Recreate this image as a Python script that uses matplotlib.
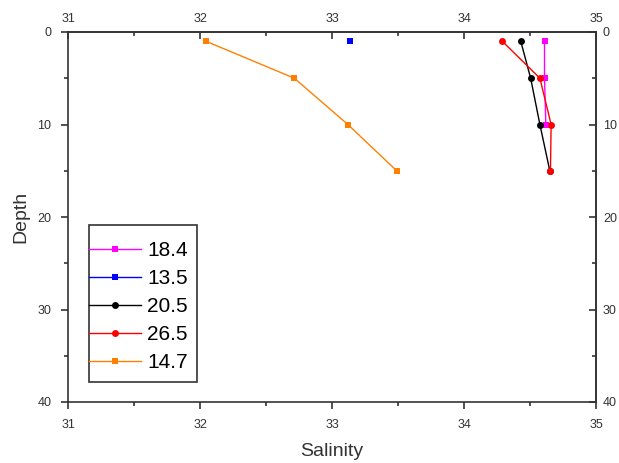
import matplotlib
matplotlib.use("Agg")
import matplotlib.pyplot as plt
from matplotlib.patches import Rectangle
from matplotlib.ticker import MultipleLocator

plt.rcParams['font.family'] = ['Liberation Sans', 'DejaVu Sans']

# salinity profiles, one per station temperature label
labels = ['18.4', '13.5', '20.5', '26.5', '14.7']
colors = ['#ff00ff', '#0000ff', '#000000', '#ff0000', '#ff8000']
markers = ['s', 's', 'o', 'o', 's']

depth_184 = [1, 5, 10]
sal_184 = [34.61, 34.61, 34.62]
depth_135 = [1]
sal_135 = [33.14]
depth_205 = [1, 5, 10, 15]
sal_205 = [34.43, 34.505, 34.575, 34.65]
depth_265 = [1, 5, 10, 15]
sal_265 = [34.29, 34.575, 34.66, 34.655]
depth_147 = [1, 5, 10, 15]
sal_147 = [32.045, 32.715, 33.12, 33.49]

depths = [depth_184, depth_135, depth_205, depth_265, depth_147]
salts = [sal_184, sal_135, sal_205, sal_265, sal_147]

W, H = 619, 463
fig = plt.figure(figsize=(W / 100, H / 100), dpi=100)
ax = fig.add_axes([68 / W, 1 - 402 / H, 528 / W, 370 / H])

for s, d, c, m, lab in zip(salts, depths, colors, markers, labels):
    ax.plot(s, d, color=c, marker=m, markersize=5, linewidth=1, label=lab,
            markeredgewidth=0)

ax.set_xlim(31, 35)
ax.set_ylim(40, 0)

grey = '#333333'
for sp in ax.spines.values():
    sp.set_color(grey)
    sp.set_linewidth(1.2)


def set_locators(axis_obj, major, minor):
    axis_obj.set_major_locator(MultipleLocator(major))
    axis_obj.set_minor_locator(MultipleLocator(minor))


set_locators(ax.xaxis, 1, 0.5)
set_locators(ax.yaxis, 10, 5)
ax.tick_params(axis='both', which='both', labelsize=9, colors=grey,
               direction='out', width=1.2)
ax.tick_params(which='major', length=5)
ax.tick_params(which='minor', length=3)
ax.tick_params(axis='x', which='major', pad=7)
ax.tick_params(axis='y', which='major', pad=7)

# mirrored top and right axes, ticks pointing inward
top = ax.secondary_xaxis('top')
right = ax.secondary_yaxis('right')
set_locators(top.xaxis, 1, 0.5)
set_locators(right.yaxis, 10, 5)
for sec in (top, right):
    for sp in sec.spines.values():
        sp.set_color(grey)
        sp.set_linewidth(1.2)
    sec.tick_params(which='both', labelsize=9, colors=grey,
                    direction='in', width=1.2)
    sec.tick_params(which='major', length=5)
    sec.tick_params(which='minor', length=3)
top.tick_params(which='major', pad=5)
right.tick_params(which='major', pad=5)

ax.set_xlabel('Salinity', fontsize=14, color=grey, labelpad=9)
ax.set_ylabel('Depth', fontsize=14, color=grey, labelpad=6)

leg = ax.legend(loc='upper left', bbox_to_anchor=(89 / W, 1 - 241 / H),
                bbox_transform=fig.transFigure, fontsize=15, frameon=False,
                handlelength=2.5, borderpad=0, labelspacing=0.43,
                handletextpad=0.3, borderaxespad=0)
ax.add_patch(Rectangle((89 / W, 1 - 382 / H), 108 / W, 157 / H,
                       transform=fig.transFigure, fill=False,
                       edgecolor=grey, linewidth=1.2, zorder=5))

fig.savefig('out.png', dpi=100)
